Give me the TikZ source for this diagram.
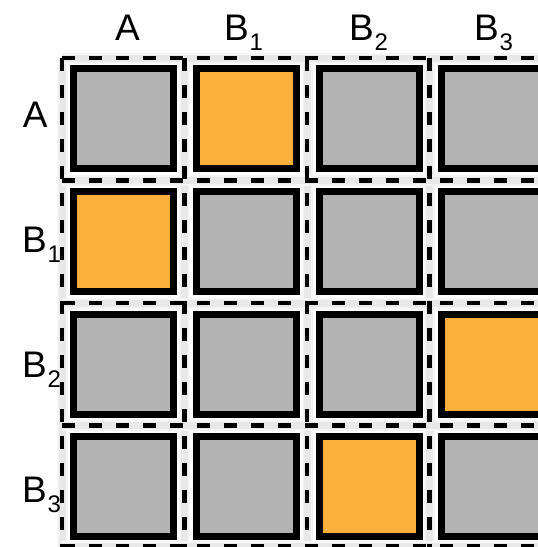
\documentclass[tikz,border=0pt]{standalone}
\usepackage{fontspec}
\setmainfont{Liberation Sans}
\definecolor{cellgray}{RGB}{179,179,179}
\definecolor{cellorange}{RGB}{251,176,59}
\tikzset{
  cell/.style={draw=black, line width=7pt, minimum size=100pt, inner sep=0pt, fill=cellgray},
  hot/.style={fill=cellorange},
  lbl/.style={font=\fontsize{37}{40}\selectfont, inner sep=0pt, outer sep=0pt},
  gridline/.style={draw=black, dash pattern=on 13pt off 14pt, line width=4.2pt},
  glowouter/.style={draw=black!4, line width=11pt},
  glowinner/.style={draw=black!9, line width=7pt},
}
\newcommand{\sB}[1]{B\hspace{1pt}\raisebox{-10pt}{\fontsize{24}{24}\selectfont #1}}
\begin{document}
\begin{tikzpicture}[x=1pt,y=-1pt]
\useasboundingbox (0,0) rectangle (538,547);
\clip (0,0) rectangle (538,547);
% glow under the dashed grid
\foreach \gx in {62,184.5,307,429.5}{
  \draw[glowouter] (\gx,58) -- (\gx,560);
  \draw[glowinner] (\gx,58) -- (\gx,560);
}
\foreach \gy in {58,180.5,303,425.5,546}{
  \draw[glowouter] (62,\gy) -- (560,\gy);
  \draw[glowinner] (62,\gy) -- (560,\gy);
}
% dashed grid
\foreach \gx in {62,184.5,307,429.5}{
  \draw[gridline] (\gx,58) -- (\gx,560);
}
\foreach \gy in {58,180.5,303,425.5,546}{
  \draw[gridline] (62,\gy) -- (560,\gy);
}
% cells
\foreach \r/\cy in {0/118.5,1/241.2,2/364,3/486.6}{
  \foreach \c/\cx in {0/123.5,1/246.2,2/369,3/491.6}{
    \node[cell] (c-\r-\c) at (\cx,\cy) {};
  }
}
\node[cell,hot] (h-0-1) at (246.2,118.5) {};
\node[cell,hot] (h-1-0) at (123.5,241.2) {};
\node[cell,hot] (h-2-3) at (491.6,364) {};
\node[cell,hot] (h-3-2) at (369,486.6) {};
% column labels
\node[lbl,anchor=base west] (colA) at (115,40) {A};
\node[lbl,anchor=base west] (colB1) at (224,40) {\sB{1}};
\node[lbl,anchor=base west] (colB2) at (349,40) {\sB{2}};
\node[lbl,anchor=base west] (colB3) at (474,40) {\sB{3}};
% row labels
\node[lbl,anchor=base west] (rowA) at (23,127) {A};
\node[lbl,anchor=base west] (rowB1) at (22,252) {\sB{1}};
\node[lbl,anchor=base west] (rowB2) at (22,377) {\sB{2}};
\node[lbl,anchor=base west] (rowB3) at (22,502) {\sB{3}};
\end{tikzpicture}
\end{document}
